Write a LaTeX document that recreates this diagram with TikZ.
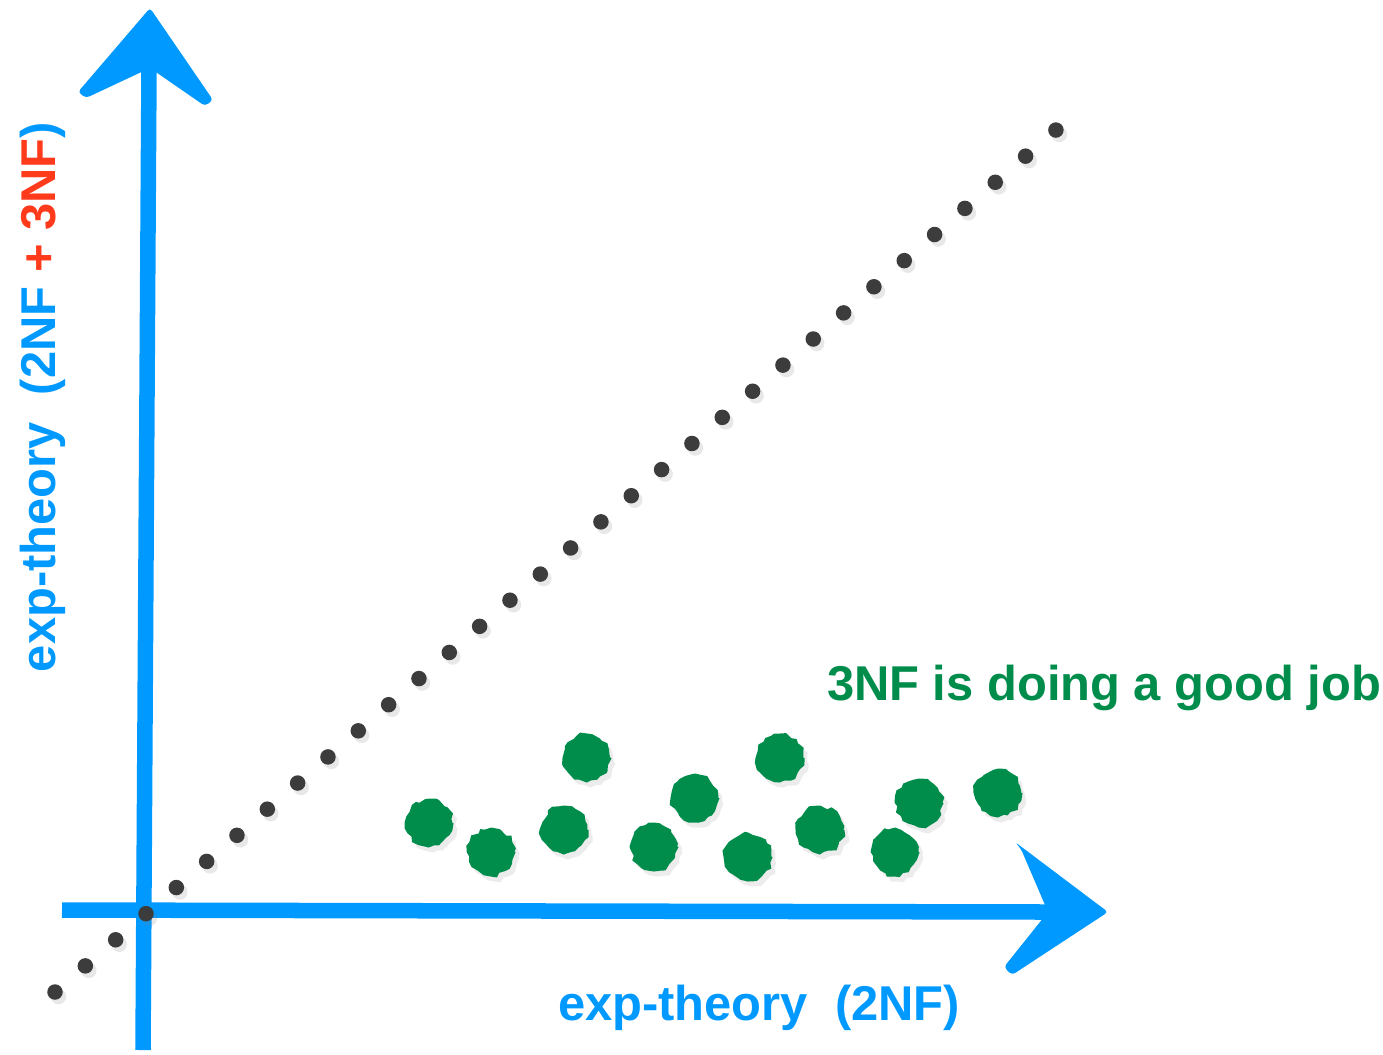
\documentclass[tikz,border=0pt]{standalone}
\usepackage{fontspec}
\setmainfont{Liberation Sans}
\usetikzlibrary{positioning,shadows,decorations.pathmorphing}
\definecolor{AxisBlue}{HTML}{0099FF}
\definecolor{FitGreen}{HTML}{008D4C}
\definecolor{NFRed}{HTML}{FF3B1C}
\definecolor{DotGray}{HTML}{3C3C3C}

\begin{document}
\begin{tikzpicture}[x=0.01cm, y=-0.01cm,
        axis/.style={draw=AxisBlue, line width=1.55mm},
        head/.style={fill=AxisBlue, rounded corners=1pt},
        dot/.style={circle, fill=DotGray, minimum size=1.55mm, inner sep=0pt,
                    drop shadow={opacity=0.18, shadow xshift=0.35mm, shadow yshift=-0.45mm}},
        blob/.style={circle, fill=FitGreen, minimum size=4.7mm, inner sep=0pt,
                     decorate, decoration={random steps, segment length=0.5mm, amplitude=0.2mm},
                     drop shadow={opacity=0.15, shadow xshift=0.4mm, shadow yshift=-0.5mm}},
        lbl/.style={font=\fontsize{13.9}{16}\selectfont\bfseries, text=AxisBlue, inner sep=0pt},
      ]
      \useasboundingbox (0,0) rectangle (1383,1054);
      \coordinate (origin) at (145,912);
      \coordinate (xstart) at (62,910);
      \coordinate (xtip) at (1050,912);
      \coordinate (ystart) at (143,1050);
      \coordinate (ytip) at (149,68);
      \draw[axis] (xstart) -- (xtip);
      \draw[axis] (ystart) -- (ytip);
      \fill[head] (78,92) -- (150,8) -- (213,100) -- (205,106) -- (150,68) -- (86,98) -- cycle;
      \fill[head] (1015,842) -- (1108,912) -- (1012,975) -- (1004,967) -- (1048,912) -- (1021,849) -- cycle;
      \foreach \i in {0,...,33}
        \node[dot] (d\i) at ({55+30.33*\i},{992-26.12*\i}) {};
      \foreach \x/\y [count=\k] in {429/823, 491/852, 564/830, 587/758, 654/847, 695/798,
                                    748/857, 780/758, 820/830, 895/852, 919/803, 998/793}
        \node[blob] (b\k) at (\x,\y) {};
      \node[lbl, text=FitGreen, anchor=base] (good) at (1104,700) {3NF is doing a good job};
      \node[lbl, anchor=base] (xlab) at (759,1020) {exp-theory\ \ (2NF)};
      \node[lbl, rotate=90, anchor=base] (ylab) at (55,397) {exp-theory\ \ (2NF {\color{NFRed}+ 3NF})};
    \end{tikzpicture}
\end{document}
